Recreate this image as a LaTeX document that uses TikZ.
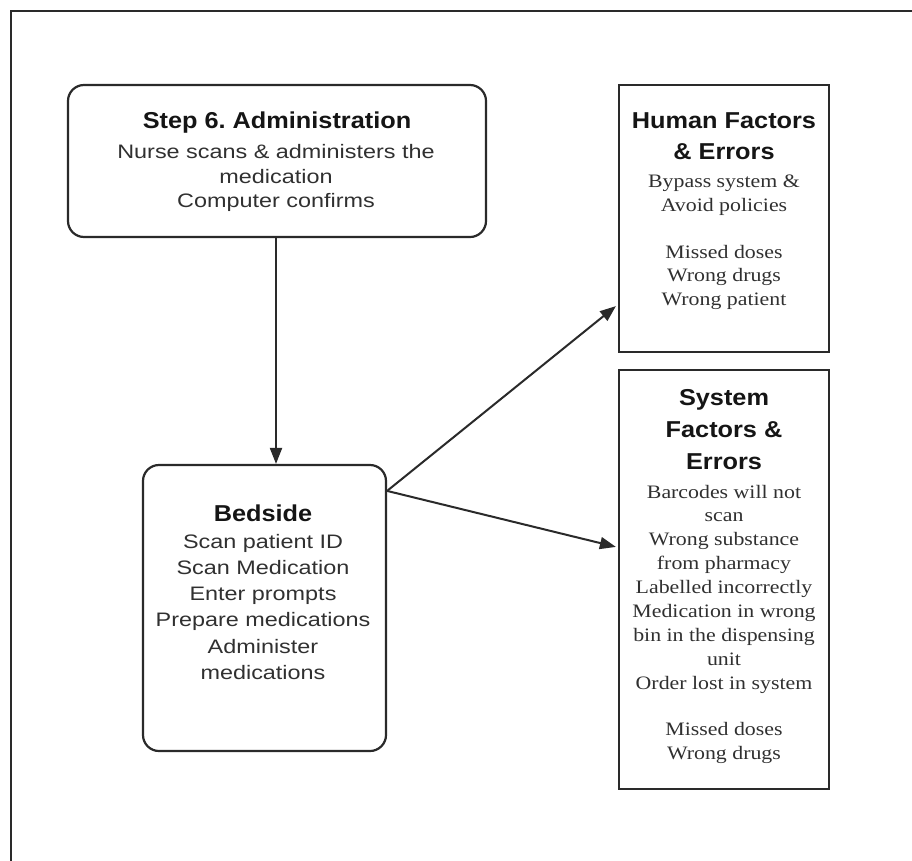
\documentclass[tikz,border=0pt]{standalone}
\usepackage{fontspec}
\setmainfont{Liberation Serif}
\newfontfamily\titlefont[FakeStretch=1.1]{Liberation Sans}
\newfontfamily\bodysans[FakeStretch=1.2]{Liberation Sans}
\newfontfamily\bodyserif[FakeStretch=1.15]{Liberation Serif}
\usetikzlibrary{arrows.meta,calc}
\frenchspacing

\definecolor{inkline}{HTML}{2A2A2A}
\definecolor{inktitle}{HTML}{151515}
\definecolor{inkbody}{HTML}{303030}

\tikzset{
  frame/.style={draw=inkline, line width=2.2pt},
  roundbox/.style={frame, rounded corners=16pt, inner sep=0pt},
  squarebox/.style={frame, inner sep=0pt},
  titletext/.style={align=center, inner sep=0pt, text=inktitle,
    font=\titlefont\bfseries\fontsize{23}{31}\selectfont},
  sanstext/.style={align=center, inner sep=0pt, text=inkbody,
    font=\bodysans\fontsize{19.5}{24.4}\selectfont},
  seriftext/.style={align=center, inner sep=0pt, text=inkbody,
    font=\bodyserif\fontsize{19}{23.6}\selectfont},
  flow/.style={draw=inkline, line width=2pt,
    -{Triangle[length=16pt,width=12pt]}},
}

% Multi-line nodes below are placed by the baseline of their last line.
\begin{document}
\begin{tikzpicture}[x=1pt,y=-1pt]
  \useasboundingbox (0,0) rectangle (912,860);

  % outer frame, running off the right and bottom edges
  \draw[frame] (11,11) rectangle (930,880);

  % boxes
  \node[roundbox, minimum width=418pt, minimum height=152pt] (step) at (277,161) {};
  \node[roundbox, minimum width=243pt, minimum height=286pt] (bed) at (264.5,608) {};
  \node[squarebox, minimum width=210pt, minimum height=267pt] (human) at (724,218.5) {};
  \node[squarebox, minimum width=210pt, minimum height=419pt] (sys) at (724,579.5) {};

  % texts of the administration step
  \node[titletext, anchor=base] (stepT) at (277,128) {Step 6. Administration};
  \node[sanstext, anchor=base] (stepB) at (276,207.6)
    {Nurse scans \& administers the\\ medication\\ Computer confirms};

  % bedside texts
  \node[sanstext, anchor=base, font=\bodysans\fontsize{19.5}{26.3}\selectfont] (bedT) at (263,679.5)
    {{\titlefont\bfseries\fontsize{23}{26.3}\selectfont\color{inktitle}Bedside}\\
     Scan patient ID\\ Scan Medication\\ Enter prompts\\ Prepare medications\\
     Administer\\ medications};

  % human factors texts
  \node[titletext, anchor=base] (humanT) at (724,159.5) {Human Factors\\ \& Errors};
  \node[seriftext, anchor=base] (humanB) at (724,305.5)
    {Bypass system \&\\ Avoid policies\\[23.6pt] Missed doses\\ Wrong drugs\\ Wrong patient};

  % system factors texts
  \node[titletext, anchor=base, font=\titlefont\bfseries\fontsize{23}{32}\selectfont] (sysT) at (724,469.5)
    {System\\ Factors \&\\ Errors};
  \node[seriftext, anchor=base, font=\bodyserif\fontsize{19}{23.9}\selectfont] (sysB) at (724,759.4)
    {Barcodes will not\\ scan\\ Wrong substance\\ from pharmacy\\ Labelled incorrectly\\
     Medication in wrong\\ bin in the dispensing\\ unit\\ Order lost in system\\[22.4pt]
     Missed doses\\ Wrong drugs};

  % connectors
  \coordinate (drop) at (276,0);
  \coordinate (fork) at ($(bed.north east)+(0,27)$);
  \draw[flow] (step.south -| drop) -- (bed.north -| drop);
  \draw[flow] (fork) -- ($(human.south west)+(-2,-47)$);
  \draw[flow] (fork) -- ($(sys.north west)+(-2,178)$);
\end{tikzpicture}
\end{document}
